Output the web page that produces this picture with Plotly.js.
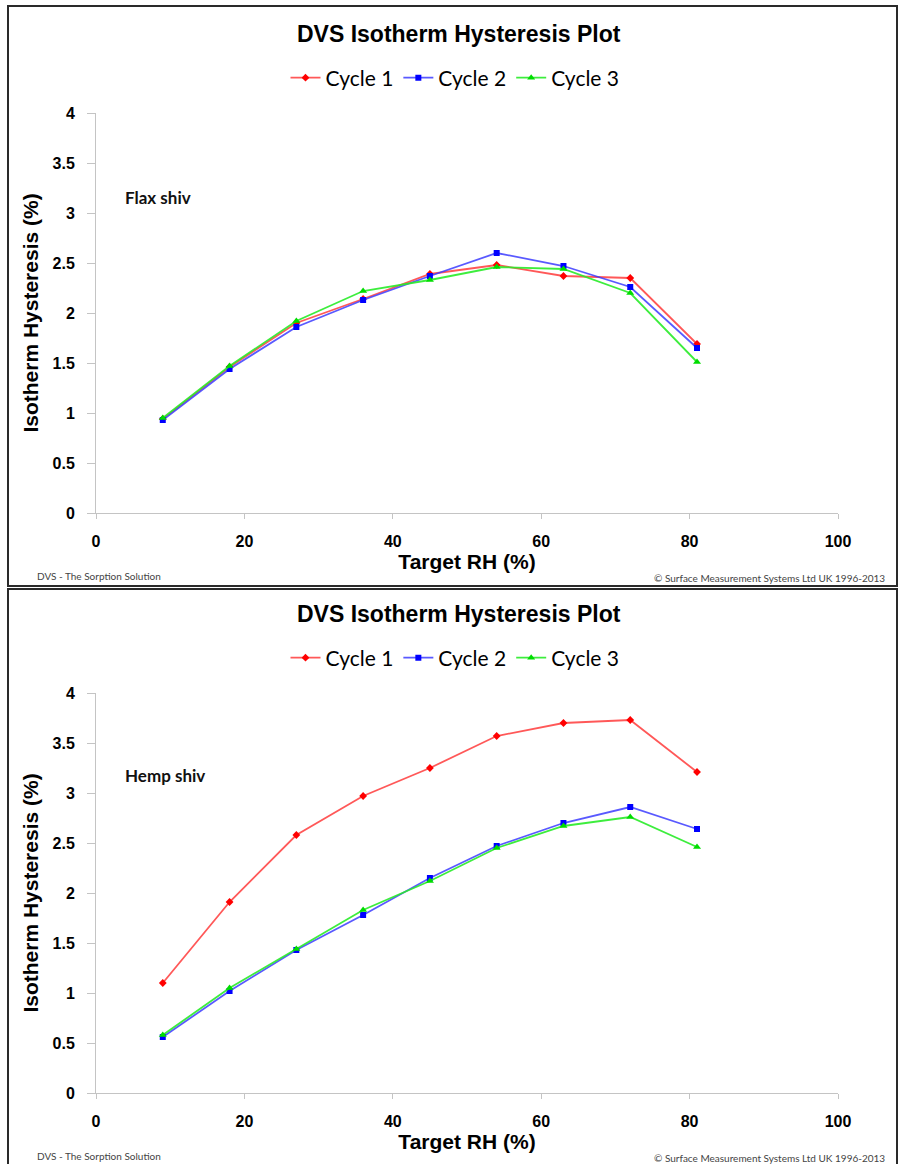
<!DOCTYPE html>
<html>
<head>
<meta charset="utf-8">
<script src="https://cdn.plot.ly/plotly-3.0.1.min.js"></script>
<style>
html,body{margin:0;padding:0;background:#fff;}
#chart{width:901px;height:1164px;}
</style>
</head>
<body>
<div id="chart"></div>
<script>
// ---- data ----
const targetRH = [9, 18, 27, 36, 45, 54, 63, 72, 81];
const seriesNames = ["Cycle 1", "Cycle 2", "Cycle 3"];
const flaxCycle1 = [0.94, 1.46, 1.90, 2.14, 2.39, 2.48, 2.37, 2.35, 1.69];
const flaxCycle2 = [0.93, 1.44, 1.86, 2.13, 2.37, 2.60, 2.47, 2.26, 1.65];
const flaxCycle3 = [0.95, 1.47, 1.92, 2.22, 2.33, 2.46, 2.44, 2.20, 1.51];
const hempCycle1 = [1.10, 1.91, 2.58, 2.97, 3.25, 3.57, 3.70, 3.73, 3.21];
const hempCycle2 = [0.56, 1.02, 1.43, 1.78, 2.15, 2.47, 2.70, 2.86, 2.64];
const hempCycle3 = [0.58, 1.05, 1.44, 1.83, 2.12, 2.45, 2.67, 2.76, 2.46];
const xTicks = [0, 20, 40, 60, 80, 100];
const yTicks = [0, 0.5, 1, 1.5, 2, 2.5, 3, 3.5, 4];
const chartTitle = "DVS Isotherm Hysteresis Plot";
const xTitle = "Target RH (%)";
const yTitle = "Isotherm Hysteresis (%)";
const panelLabels = ["Flax shiv", "Hemp shiv"];
const footerLeft = "DVS - The Sorption Solution";
const footerRight = "© Surface Measurement Systems Ltd UK 1996-2013";

// ---- layout helpers ----
const W = 901, H = 1164;
const px = v => v / W;
const py = v => 1 - v / H;
const OFF = 580; // vertical offset of second panel

const styles = [
  {line: {color: "rgba(255,70,70,0.9)", width: 1.8}, marker: {color: "#ff0000", symbol: "diamond", size: 6}},
  {line: {color: "rgba(60,60,255,0.85)", width: 1.8}, marker: {color: "#0000ff", symbol: "square", size: 6}},
  {line: {color: "rgba(40,235,40,0.9)", width: 1.8}, marker: {color: "#00dd00", symbol: "triangle-up", size: 7}}
];

const flax = [flaxCycle1, flaxCycle2, flaxCycle3];
const hemp = [hempCycle1, hempCycle2, hempCycle3];
const traces = [];
flax.forEach((ys, i) => traces.push({
  x: targetRH, y: ys, name: seriesNames[i], type: "scatter", mode: "lines+markers",
  xaxis: "x", yaxis: "y", legend: "legend", line: styles[i].line, marker: styles[i].marker
}));
hemp.forEach((ys, i) => traces.push({
  x: targetRH, y: ys, name: seriesNames[i], type: "scatter", mode: "lines+markers",
  xaxis: "x2", yaxis: "y2", legend: "legend2", line: styles[i].line, marker: styles[i].marker
}));

const tickFont = {family: "Liberation Sans, Arial, sans-serif", size: 16, color: "#000", weight: "bold"};
const axTitleFont = {family: "Liberation Sans, Arial, sans-serif", size: 21, color: "#000", weight: "bold"};
const axisLine = "#c4c4c4";

function xAxis(domainAnchor) {
  return {
    domain: [px(96), px(838)], range: [0, 100], anchor: domainAnchor,
    tickvals: xTicks, ticktext: xTicks.map(String),
    showgrid: false, zeroline: false, showline: true, linecolor: axisLine, linewidth: 1,
    ticks: "outside", ticklen: 5, tickcolor: axisLine, ticklabelstandoff: 9,
    tickfont: tickFont,
    title: {text: xTitle, font: axTitleFont, standoff: 5}
  };
}
function yAxis(y0, y1, anchor) {
  return {
    domain: [py(y0), py(y1)], range: [0, 4], anchor: anchor,
    tickvals: yTicks, ticktext: yTicks.map(String),
    showgrid: false, zeroline: false, showline: true, linecolor: axisLine, linewidth: 1,
    ticks: "outside", ticklen: 8, tickcolor: axisLine, ticklabelstandoff: 9,
    tickfont: tickFont,
    title: {text: yTitle, font: axTitleFont, standoff: 8}
  };
}

const legendBase = {
  orientation: "h", xanchor: "center", yanchor: "middle", x: px(455),
  font: {family: "Lato, Noto Sans, sans-serif", size: 21, color: "#000"},
  itemwidth: 30, bgcolor: "rgba(0,0,0,0)", traceorder: "normal"
};

const annotations = [];
[0, OFF].forEach((o, k) => {
  annotations.push({
    xref: "paper", yref: "paper", x: px(459), y: py(34 + o), xanchor: "center", yanchor: "middle",
    text: chartTitle, showarrow: false,
    font: {family: "Liberation Sans, Arial, sans-serif", size: 23, color: "#000", weight: "bold"}
  });
  annotations.push({
    xref: "paper", yref: "paper", x: px(123), y: py(197 + o - (k ? 2 : 0)), xanchor: "left", yanchor: "middle",
    text: panelLabels[k], showarrow: false,
    font: {family: "Lato, Noto Sans, sans-serif", size: 17, color: "#111", weight: "bold"}
  });
  annotations.push({
    xref: "paper", yref: "paper", x: px(35), y: py(576 + o), xanchor: "left", yanchor: "middle",
    text: footerLeft, showarrow: false,
    font: {family: "Lato, Noto Sans, sans-serif", size: 10, color: "#444"}
  });
  annotations.push({
    xref: "paper", yref: "paper", x: px(887), y: py(578 + o), xanchor: "right", yanchor: "middle",
    text: footerRight, showarrow: false,
    font: {family: "Lato, Noto Sans, sans-serif", size: 10, color: "#444"}
  });
});

const shapes = [
  {type: "rect", xref: "paper", yref: "paper", x0: px(8), x1: px(897), y0: py(586), y1: py(6),
   line: {color: "#2a2a2a", width: 2}},
  {type: "rect", xref: "paper", yref: "paper", x0: px(8), x1: px(897), y0: py(1170), y1: py(589),
   line: {color: "#2a2a2a", width: 2}}
];

const layout = {
  width: W, height: H,
  margin: {l: 0, r: 0, t: 0, b: 0},
  paper_bgcolor: "#fff", plot_bgcolor: "#fff",
  showlegend: true,
  xaxis: xAxis("y"),
  yaxis: yAxis(513, 113, "x"),
  xaxis2: xAxis("y2"),
  yaxis2: yAxis(513 + OFF, 113 + OFF, "x2"),
  legend: Object.assign({}, legendBase, {y: py(78)}),
  legend2: Object.assign({}, legendBase, {y: py(78 + OFF)}),
  annotations: annotations,
  shapes: shapes
};

Plotly.newPlot("chart", traces, layout, {displayModeBar: false, staticPlot: true});
</script>
</body>
</html>
